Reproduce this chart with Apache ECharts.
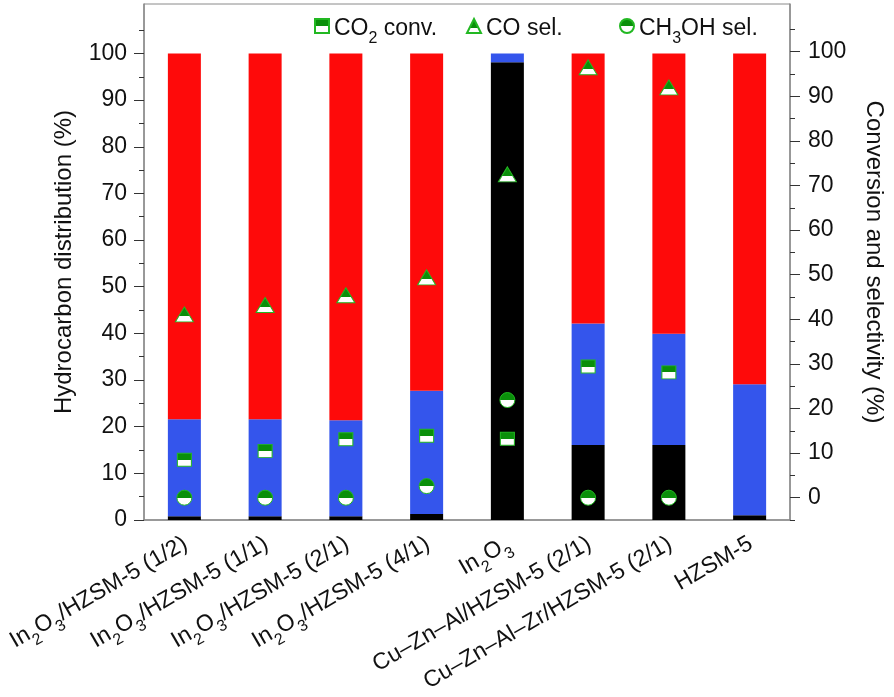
<!DOCTYPE html>
<html>
<head>
<meta charset="utf-8">
<script src="https://cdn.jsdelivr.net/npm/echarts@6/dist/echarts.min.js"></script>
<style>
	html, body { margin: 0; padding: 0; background: #fff; }
	#chart { width: 894px; height: 697px; }
</style>
</head>
<body>
<div id="chart"></div>
<script>
var categories = ['In2O3/HZSM-5 (1/2)', 'In2O3/HZSM-5 (1/1)', 'In2O3/HZSM-5 (2/1)', 'In2O3/HZSM-5 (4/1)',
	'In2O3', 'Cu–Zn–Al/HZSM-5 (2/1)', 'Cu–Zn–Al–Zr/HZSM-5 (2/1)', 'HZSM-5'];

// hydrocarbon distribution (%), left axis
var blackPart = [0.8, 0.8, 0.8, 1.3, 98.1, 16.1, 16.1, 1.0];
var bluePart  = [20.8, 20.8, 20.6, 26.4, 1.9, 26.0, 23.8, 28.1];
var redPart   = [78.4, 78.4, 78.6, 72.3, 0, 57.9, 60.1, 70.9];

// conversion and selectivity (%), right axis
var co2Conv  = [8.5, 10.5, 13.1, 13.9, 13.2, 29.4, 28.1, null];
var coSel    = [41.1, 43.2, 45.4, 49.4, 72.5, 96.5, 92.0, null];
var ch3ohSel = [0, 0, 0, 2.6, 21.9, 0, 0, null];

var leftTicks  = [0, 10, 20, 30, 40, 50, 60, 70, 80, 90, 100];
var rightTicks = [0, 10, 20, 30, 40, 50, 60, 70, 80, 90, 100];
var rightMinor = [-5, 5, 15, 25, 35, 45, 55, 65, 75, 85, 95, 105];

var FONT = '"Liberation Sans", Arial, sans-serif';
var GREEN = '#0a8f0a';
var axisGray = '#8a8a8a';

function halfFill(cut){
	return {
		type: 'linear', x: 0, y: 0, x2: 0, y2: 1,
		colorStops: [
			{offset: 0, color: GREEN}, {offset: cut, color: GREEN},
			{offset: cut, color: '#ffffff'}, {offset: 1, color: '#ffffff'}
		]
	};
}

function richName(v){
	var parts = v.split('In2O3');
	return parts.map(function(p){ return p ? '{n|' + p + '}' : ''; })
		.join('{n|In}{s|2}{n|O}{s|3}');
}

var legendNames = {
	'CO2 conv.': '{n|CO}{s|2}{n| conv.}',
	'CH3OH sel.': '{n|CH}{s|3}{n|OH sel.}',
	'CO sel.': '{n|CO sel.}{s|\u200b}'
};

var richText = {
	n: {fontSize: 23, fontFamily: FONT, color: '#111', lineHeight: 28, verticalAlign: 'bottom'},
	s: {fontSize: 16, fontFamily: FONT, color: '#111', lineHeight: 28, verticalAlign: 'bottom', padding: [0, 0, -7, 0]}
};

function makeLegend(name, icon, left){
	return {
		data: [{name: name, icon: icon}],
		left: left, top: 12,
		itemWidth: 14, itemHeight: 14,
		itemGap: 0,
		formatter: function(n){ return legendNames[n]; },
		textStyle: {fontSize: 23, fontFamily: FONT, color: '#111', rich: richText}
	};
}

var chart = echarts.init(document.getElementById('chart'));

var option = {
	animation: false,
	backgroundColor: '#fff',
	textStyle: {fontFamily: FONT},
	grid: {
		left: 144, right: 100, top: 4, bottom: 177,
		show: true, borderColor: axisGray, borderWidth: 1, backgroundColor: 'transparent'
	},
	legend: [
		makeLegend('CO2 conv.', 'rect', 309),
		makeLegend('CO sel.', 'triangle', 461),
		makeLegend('CH3OH sel.', 'circle', 614)
	],
	xAxis: {
		type: 'category',
		data: categories,
		axisLine: {lineStyle: {color: axisGray, width: 1.5}},
		axisTick: {alignWithLabel: true, length: 9, lineStyle: {color: '#333'}},
		axisLabel: {
			interval: 0, rotate: 30, margin: 20,
			formatter: richName,
			rich: richText
		}
	},
	yAxis: [{
		type: 'value',
		min: 0, max: 110.6, interval: 10,
		position: 'left',
		name: 'Hydrocarbon distribution (%)',
		nameLocation: 'middle', nameGap: 68,
		nameTextStyle: {fontSize: 24, fontFamily: FONT, color: '#111'},
		axisLine: {show: true, lineStyle: {color: axisGray, width: 1.5}},
		axisTick: {show: true, length: 10, customValues: leftTicks, lineStyle: {color: '#333'}},
		minorTick: {show: true, splitNumber: 2, length: 5, lineStyle: {color: '#333'}},
		splitLine: {show: false},
		axisLabel: {fontSize: 23, color: '#111', margin: 17, customValues: leftTicks}
	}, {
		type: 'value',
		min: -5, max: 110.7,
		position: 'right',
		name: 'Conversion and selectivity (%)',
		nameLocation: 'middle', nameGap: 72, nameRotate: -90,
		nameTextStyle: {fontSize: 24, fontFamily: FONT, color: '#111'},
		axisLine: {show: true, lineStyle: {color: axisGray, width: 1.5}},
		axisTick: {show: true, length: 10, customValues: rightTicks, lineStyle: {color: '#333'}},
		splitLine: {show: false},
		axisLabel: {fontSize: 23, color: '#111', margin: 18, customValues: rightTicks}
	}, {
		type: 'value',
		min: -5, max: 110.7,
		position: 'right',
		axisLine: {show: false},
		axisTick: {show: true, length: 5, customValues: rightMinor, lineStyle: {color: '#333'}},
		splitLine: {show: false},
		axisLabel: {show: false}
	}],
	series: [{
		name: 'black', type: 'bar', stack: 'hc', barWidth: 33,
		itemStyle: {color: '#000000'}, data: blackPart
	}, {
		name: 'blue', type: 'bar', stack: 'hc', barWidth: 33,
		itemStyle: {color: '#3455ec'}, data: bluePart
	}, {
		name: 'red', type: 'bar', stack: 'hc', barWidth: 33,
		itemStyle: {color: '#fe0a0a'}, data: redPart
	}, {
		name: 'CO2 conv.', type: 'scatter', yAxisIndex: 1, z: 5,
		symbol: 'rect', symbolSize: [14, 13],
		itemStyle: {color: halfFill(0.5), borderColor: '#22b822', borderWidth: 1, opacity: 1},
		data: co2Conv
	}, {
		name: 'CO sel.', type: 'scatter', yAxisIndex: 1, z: 5,
		symbol: 'triangle', symbolSize: [18, 15],
		itemStyle: {color: halfFill(0.62), borderColor: '#22b822', borderWidth: 1, opacity: 1},
		data: coSel
	}, {
		name: 'CH3OH sel.', type: 'scatter', yAxisIndex: 1, z: 5,
		symbol: 'circle', symbolSize: 15,
		itemStyle: {color: halfFill(0.5), borderColor: '#22b822', borderWidth: 1, opacity: 1},
		data: ch3ohSel
	}]
};

chart.setOption(option);
</script>
</body>
</html>
